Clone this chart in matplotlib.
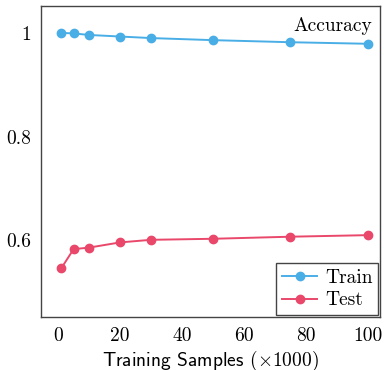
import matplotlib
matplotlib.use("Agg")
import matplotlib.pyplot as plt

samples = [1, 5, 10, 20, 30, 50, 75, 100]
train_acc = [1.000, 0.999, 0.996, 0.993, 0.990, 0.986, 0.982, 0.979]
test_acc = [0.546, 0.583, 0.586, 0.596, 0.601, 0.603, 0.607, 0.610]
yticks = [0.6, 0.8, 1.0]
yticklabels = ["0.6", "0.8", "1"]
xticks = [0, 20, 40, 60, 80, 100]

plt.rcParams['font.family'] = 'cmr10'
plt.rcParams['mathtext.fontset'] = 'cm'
plt.rcParams['axes.unicode_minus'] = False

fig = plt.figure(figsize=(3.84, 3.70), dpi=100)
ax = fig.add_axes([0.107, 0.143, 0.883, 0.841])

ax.plot(samples, train_acc, color='#4aaee6', marker='o', markersize=6, lw=1.4, label='Train')
ax.plot(samples, test_acc, color='#e9486b', marker='o', markersize=6, lw=1.4, label='Test')

ax.set_xlim(-5.5, 104)
ax.set_ylim(0.452, 1.052)
ax.set_xticks(xticks)
ax.set_xticklabels([str(x) for x in xticks])
ax.set_yticks(yticks)
ax.set_yticklabels(yticklabels)
ax.tick_params(length=0, labelsize=14, pad=7)
for s in ax.spines.values():
    s.set_color('#444444')
    s.set_linewidth(1.0)

ax.set_xlabel(r"Training Samples $(\times 1000)$", family='cmss10', fontsize=14, labelpad=3)
ax.text(0.975, 0.965, "Accuracy", transform=ax.transAxes, ha='right', va='top', fontsize=14)

leg = ax.legend(loc='lower right', fontsize=14, fancybox=False, framealpha=1,
                edgecolor='#444444', borderaxespad=0.1, handlelength=1.8,
                handletextpad=0.4, borderpad=0.3, labelspacing=0.25)
leg.get_frame().set_linewidth(1.0)

fig.savefig("out.png", dpi=100)
